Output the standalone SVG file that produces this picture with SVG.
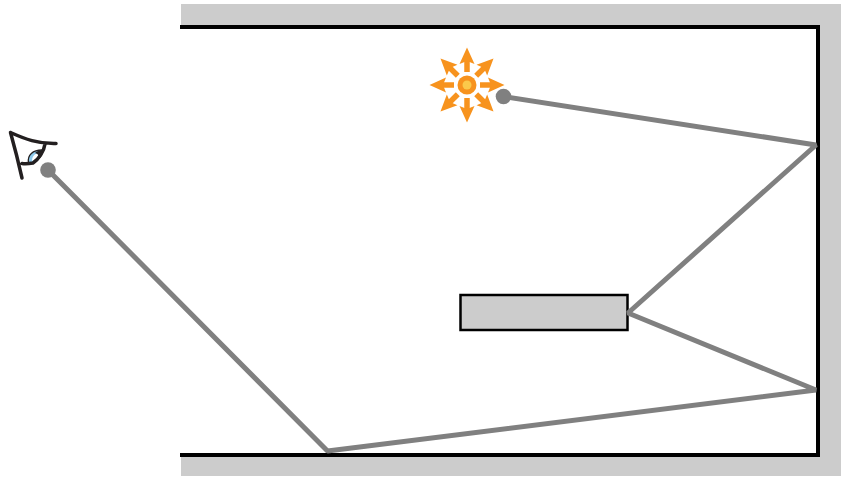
<svg xmlns="http://www.w3.org/2000/svg" width="846" height="477" viewBox="0 0 846 477">
<style>
.ray{fill:none;stroke:#808080;stroke-width:5;stroke-linejoin:bevel;stroke-linecap:butt}
.dot{fill:#808080}
.wall{fill:none;stroke:#000;stroke-width:4}
.eye{fill:none;stroke:#231f20;stroke-width:3.500;stroke-linecap:round;stroke-linejoin:round}
.sa{fill:none;stroke:#f7931e;stroke-width:5.500}
.sh{fill:#f7931e}
</style>
<defs>
<g id="arrow"><line class="sa" x1="0" y1="-13" x2="0" y2="-28"/><polygon class="sh" points="0,-37.500 7.500,-21 0,-24 -7.500,-21"/></g>
</defs>
<g id="room">
<path d="M181 4H841V476H181V456.500H820V25.500H181Z" fill="#ccc"/>
<path class="wall" d="M180 27H818V455H180"/>
</g>
<g id="block"><rect x="460.500" y="295" width="167" height="35" fill="#ccc" stroke="#000" stroke-width="2.500"/></g>
<g id="sun">
<use href="#arrow" transform="translate(467 85)"/>
<use href="#arrow" transform="translate(467 85) rotate(45)"/>
<use href="#arrow" transform="translate(467 85) rotate(90)"/>
<use href="#arrow" transform="translate(467 85) rotate(135)"/>
<use href="#arrow" transform="translate(467 85) rotate(180)"/>
<use href="#arrow" transform="translate(467 85) rotate(225)"/>
<use href="#arrow" transform="translate(467 85) rotate(270)"/>
<use href="#arrow" transform="translate(467 85) rotate(315)"/>
<circle cx="467" cy="85" r="9.500" fill="#f7931e"/>
<circle cx="467" cy="85" r="4.500" fill="#fbc94b"/>
</g>
<g id="eye">
<path d="M28.500 163C27 155 33 150 42 150C43 156 38 160 33 163Z" fill="#8cc8ea"/>
<path d="M32 161C32 156 35 153.500 38 153.500C39.500 155 37 160 32 161Z" fill="#fff"/>
<path d="M35 153C37 151 39 150.500 42 150.500C43 155 41 158 38 160C39 157 39 154 35 153Z" fill="#231f20"/>
<path d="M28.500 163C27 155 33 150 42 150" fill="none" stroke="#231f20" stroke-width="1.300"/>
<path class="eye" d="M10.500 132.500C25 139 38 144 56 143.500M10.500 132.500C14 145 18 160 22 178M22 163.500C26 164 30 163.500 33 163C39 159 44 151 45 144"/>
</g>
<g id="connectors">
<polyline class="ray" points="503,96.500 816,145 628,313 816,390 327.500,451 48,170"/>
<circle class="dot" cx="503.500" cy="96.500" r="7.800"/>
<circle class="dot" cx="48" cy="170" r="7.800"/>
</g>
</svg>
